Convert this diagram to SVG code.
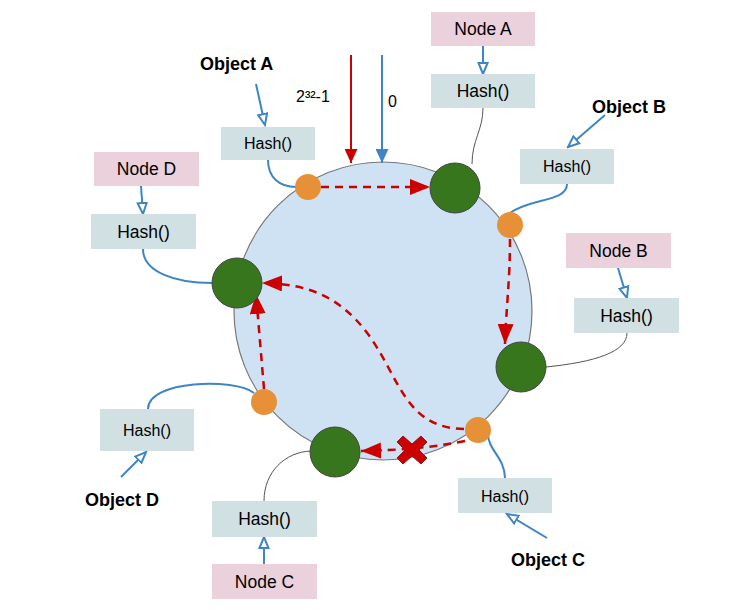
<svg xmlns="http://www.w3.org/2000/svg" width="746" height="610" viewBox="0 0 746 610">
<defs>
<style>
.txt{font-family:"Liberation Sans",Arial,sans-serif;fill:#000;text-anchor:middle}
.bold{font-family:"Liberation Sans",Arial,sans-serif;font-weight:bold;font-size:18px;fill:#000}
.nodebox{fill:#ead1dc}
.hashbox{fill:#d0e0e3}
.green{fill:#38761d;stroke:#444;stroke-width:1}
.orange{fill:#e69138}
.blue{fill:none;stroke:#3d85c6;stroke-width:2}
.gray{fill:none;stroke:#555;stroke-width:1}
.reddash{fill:none;stroke:#cc0000;stroke-width:2.5;stroke-dasharray:8,6}
</style>
<marker id="redHead" markerUnits="userSpaceOnUse" markerWidth="21" markerHeight="16" refX="20" refY="8" orient="auto"><path d="M0,0 L20,8 L0,16 z" fill="#cc0000"/></marker>
<marker id="redHeadS" markerUnits="userSpaceOnUse" markerWidth="15" markerHeight="13" refX="14" refY="6.5" orient="auto"><path d="M0,0 L14,6.5 L0,13 z" fill="#cc0000"/></marker>
<marker id="blueHead" markerUnits="userSpaceOnUse" markerWidth="15" markerHeight="13" refX="14" refY="6.5" orient="auto"><path d="M0,0 L14,6.5 L0,13 z" fill="#3d85c6"/></marker>
<marker id="openHead" markerUnits="userSpaceOnUse" markerWidth="14" markerHeight="12" refX="12" refY="6" orient="auto"><path d="M1,1.5 L12,6 L1,10.5 z" fill="#fff" stroke="#3d85c6" stroke-width="2"/></marker>
</defs>
<rect width="746" height="610" fill="#fff"/>

<g id="ring">
<circle cx="383" cy="311" r="149" fill="#cfe2f3" stroke="#777" stroke-width="1.2"/>
</g>

<g id="connectors">
<line x1="351" y1="55" x2="351" y2="163" stroke="#cc0000" stroke-width="2" marker-end="url(#redHeadS)"/>
<line x1="382" y1="55" x2="382" y2="163" stroke="#3d85c6" stroke-width="2" marker-end="url(#blueHead)"/>
<line x1="256" y1="84" x2="265" y2="125" class="blue" marker-end="url(#openHead)"/>
<line x1="483" y1="46" x2="483" y2="74" class="blue" marker-end="url(#openHead)"/>
<line x1="605" y1="115" x2="568" y2="147" class="blue" marker-end="url(#openHead)"/>
<line x1="141" y1="186" x2="143" y2="214" class="blue" marker-end="url(#openHead)"/>
<line x1="618" y1="268" x2="627" y2="298" class="blue" marker-end="url(#openHead)"/>
<line x1="121" y1="477" x2="146" y2="452" class="blue" marker-end="url(#openHead)"/>
<line x1="264" y1="564" x2="264" y2="537" class="blue" marker-end="url(#openHead)"/>
<line x1="547" y1="538" x2="507" y2="514" class="blue" marker-end="url(#openHead)"/>

<path d="M268,160 C268,178 280,187 296,187" class="blue"/>
<path d="M483,108 C483,130 472,140 472,164" class="gray"/>
<path d="M567,184 C567,202 530,198 510,213" class="blue"/>
<path d="M143,249 C143,272 175,283 212,283" class="blue"/>
<path d="M627,333 C627,352 595,362 546,367" class="gray"/>
<path d="M148,409 C148,380 235,378 254,393" class="blue"/>
<path d="M264,501 C264,472 285,452 311,451" class="gray"/>
<path d="M505,478 C505,458 488,450 488,434" class="blue"/>

<path d="M321,187 L430,187" class="reddash" marker-end="url(#redHead)"/>
<path d="M510,239 C510,280 506,310 505,344" class="reddash" marker-end="url(#redHead)"/>
<path d="M264,389 L256,294" class="reddash" marker-end="url(#redHead)"/>
<path d="M464,429 C405,428 400,378 368,334 C338,294 305,284 262,283" class="reddash" marker-end="url(#redHead)"/>
<path d="M465,441 C430,448 400,450 361,451" class="reddash" marker-end="url(#redHead)"/>
</g>

<g id="cross">
<path d="M412,450 m-9,-14 l9,8 l9,-8 l6,6 l-8,8 l8,8 l-6,6 l-9,-8 l-9,8 l-6,-6 l8,-8 l-8,-8 z" fill="#cc0000" stroke="#8b1a1a" stroke-width="1"/>
</g>

<g id="ring-nodes">
<circle id="node-a-point" cx="455" cy="188" r="25" class="green"/>
<circle id="node-b-point" cx="521" cy="367" r="25" class="green"/>
<circle id="node-c-point" cx="335" cy="452" r="25" class="green"/>
<circle id="node-d-point" cx="237" cy="283" r="25" class="green"/>
<circle id="obj-a-point" cx="308" cy="187" r="13" class="orange"/>
<circle id="obj-b-point" cx="510" cy="225" r="13" class="orange"/>
<circle id="obj-c-point" cx="478" cy="430" r="13" class="orange"/>
<circle id="obj-d-point" cx="264" cy="402" r="13" class="orange"/>
</g>

<g id="labels">
<text x="200" y="70" class="bold">Object A</text>
<text x="296" y="102" class="txt" style="text-anchor:start;font-size:16px">2³²-1</text>
<text x="388" y="107" class="txt" style="text-anchor:start;font-size:16px">0</text>
</g>

<g id="node-a"><rect x="431" y="12" width="104" height="34" class="nodebox"/><text x="483" y="35" class="txt" font-size="17.5">Node A</text></g>
<g id="hash-node-a"><rect x="431" y="74" width="104" height="34" class="hashbox"/><text x="483" y="97" class="txt" font-size="17.5">Hash()</text></g>
<g id="hash-obj-a"><rect x="221" y="127" width="94" height="33" class="hashbox"/><text x="268" y="149" class="txt" font-size="16">Hash()</text></g>
<g id="object-b"><text x="592" y="113" class="bold">Object B</text></g>
<g id="hash-obj-b"><rect x="520" y="149" width="94" height="35" class="hashbox"/><text x="567" y="172" class="txt" font-size="16">Hash()</text></g>
<g id="node-d"><rect x="94" y="152" width="105" height="34" class="nodebox"/><text x="146.5" y="175" class="txt" font-size="17.5">Node D</text></g>
<g id="hash-node-d"><rect x="91" y="214" width="105" height="35" class="hashbox"/><text x="143.5" y="238" class="txt" font-size="17.5">Hash()</text></g>
<g id="node-b"><rect x="566" y="233" width="105" height="35" class="nodebox"/><text x="618.5" y="257" class="txt" font-size="17.5">Node B</text></g>
<g id="hash-node-b"><rect x="574" y="298" width="105" height="35" class="hashbox"/><text x="626.5" y="322" class="txt" font-size="17.5">Hash()</text></g>
<g id="hash-obj-d"><rect x="100" y="409" width="94" height="42" class="hashbox"/><text x="147" y="436" class="txt" font-size="16">Hash()</text></g>
<g id="object-d"><text x="85" y="506" class="bold">Object D</text></g>
<g id="hash-node-c"><rect x="212" y="501" width="105" height="36" class="hashbox"/><text x="264.5" y="525" class="txt" font-size="17.5">Hash()</text></g>
<g id="node-c"><rect x="212" y="564" width="105" height="35" class="nodebox"/><text x="264.5" y="588" class="txt" font-size="17.5">Node C</text></g>
<g id="hash-obj-c"><rect x="458" y="478" width="94" height="35" class="hashbox"/><text x="505" y="502" class="txt" font-size="16">Hash()</text></g>
<g id="object-c"><text x="511" y="566" class="bold">Object C</text></g>
</svg>
